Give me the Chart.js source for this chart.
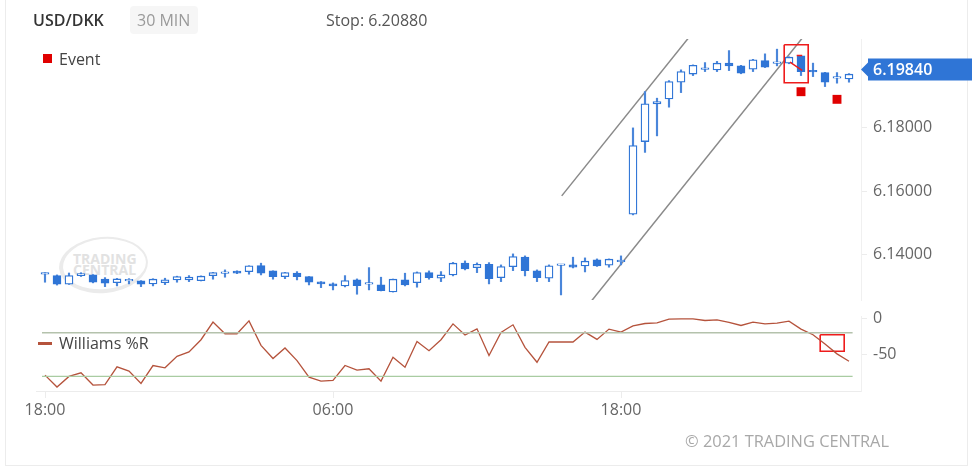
<!DOCTYPE html>
<html><head><meta charset="utf-8">
<script src="https://cdn.jsdelivr.net/npm/chart.js@4.4.0/dist/chart.umd.min.js"></script>
<style>
html,body{margin:0;padding:0;background:#fff;}
#wrap{position:relative;width:972px;height:469px;overflow:hidden;font-family:"Open Sans",sans-serif;}
canvas{position:absolute;left:0;top:0;}
.t{position:absolute;white-space:nowrap;height:20px;line-height:20px;}
</style></head><body>
<div id="wrap">
  <div style="position:absolute;left:5px;top:-1px;width:963px;height:467px;border:1px solid #ececec;box-sizing:border-box;"></div>
  <div style="position:absolute;left:59px;top:237px;width:89px;height:56px;border:2.5px solid #ebebeb;border-bottom-width:4px;border-left-width:4px;border-radius:50%;box-sizing:border-box;transform:rotate(-5deg);"></div>
  <div class="t" style="left:73px;top:249px;font-size:14px;font-weight:700;color:#e2e2e2;">TRADING</div>
  <div class="t" style="left:73px;top:260px;font-size:14px;font-weight:700;color:#e2e2e2;">CENTRAL</div>
  <canvas id="c1" width="972" height="469"></canvas>
  <canvas id="c2" width="972" height="469"></canvas>
  <div class="t" style="left:33px;top:10px;font-size:16px;font-weight:600;color:#333;">USD/DKK</div>
  <div style="position:absolute;left:130px;top:6px;width:68px;height:28px;background:#f6f6f6;border-radius:4px;"></div>
  <div class="t" style="left:137px;top:10px;font-size:16px;color:#9a9a9a;">30 MIN</div>
  <div class="t" style="left:326px;top:10px;font-size:16px;color:#555;">Stop: 6.20880</div>
  <div style="position:absolute;left:43px;top:54px;width:9px;height:9px;background:#e00000;"></div>
  <div class="t" style="left:59px;top:49px;font-size:16px;color:#444;">Event</div>
  <div style="position:absolute;left:38px;top:342px;width:14px;height:3px;background:#b5533c;"></div>
  <div class="t" style="left:59px;top:333px;font-size:16px;color:#444;">Williams %R</div>
  <div class="t" style="left:685px;top:431px;font-size:16.4px;color:#a8a8a8;">© 2021 TRADING CENTRAL</div>
</div>
<script>
// ---- data ----
const xTickPos = [0, 24, 48];
const xTickLabels = ["18:00", "06:00", "18:00"];
const priceTicks = [6.14, 6.16, 6.18];
const wTicks = [0, -50];
const currentPrice = 6.19840;

const openP = [6.1339,6.1335,6.1308,6.1335,6.1337,6.13235,6.13127,6.1318,6.13181,6.13087,
6.13127,6.13213,6.13213,6.1319,6.13348,6.13418,6.13487,6.13474,6.13663,6.13496,
6.13316,6.13424,6.13316,6.1315,6.13087,6.13024,6.13213,6.13077,6.13055,6.12835,
6.13213,6.13127,6.13442,6.13266,6.1337,6.13739,6.136,6.13707,6.13285,6.13631,
6.13928,6.13496,6.13266,6.13671,6.13685,6.13654,6.13843,6.13676,6.13784,6.15282,
6.17569,6.18757,6.18914,6.1944,6.19695,6.19845,6.19828,6.20039,6.19954,6.1985,
6.2012,6.2003,6.20039,6.20269,6.19774,6.19742,6.19566,6.19544];
const closeP = [6.1340,6.1308,6.1335,6.1341,6.1314,6.13109,6.13244,6.1319,6.13077,6.13235,
6.13213,6.13316,6.13298,6.1333,6.13442,6.13428,6.13424,6.13654,6.13424,6.13316,
6.13442,6.13316,6.1314,6.13087,6.13024,6.1319,6.13033,6.13087,6.12875,6.13235,
6.13055,6.13442,6.13285,6.1337,6.13739,6.13559,6.13707,6.13253,6.13631,6.13946,
6.13505,6.13285,6.13654,6.13681,6.13613,6.13802,6.13654,6.13865,6.13794,6.17443,
6.18757,6.18829,6.19459,6.19774,6.1997,6.19855,6.20039,6.19954,6.19724,6.20143,
6.19913,6.2004,6.20228,6.19774,6.19764,6.1944,6.19576,6.19692];
const highP = [6.1344,6.1337,6.1343,6.1344,6.1338,6.13285,6.1326,6.13253,6.1319,6.1325,
6.13266,6.1333,6.13348,6.1334,6.1345,6.13528,6.1350,6.1366,6.13739,6.1350,
6.1345,6.13474,6.1332,6.1316,6.13118,6.13348,6.13244,6.136,6.13298,6.1324,
6.13424,6.13464,6.13496,6.13474,6.13764,6.13811,6.13748,6.13757,6.13685,6.14032,
6.13969,6.13528,6.13685,6.13701,6.13928,6.13906,6.13874,6.13874,6.13969,6.18,
6.19144,6.18936,6.1949,6.19828,6.19985,6.20057,6.20095,6.20435,6.1997,6.2016,
6.20332,6.2048,6.2024,6.2028,6.2004,6.1975,6.19742,6.1971];
const lowP = [6.1314,6.1305,6.1307,6.1332,6.1312,6.13001,6.13024,6.13087,6.13001,6.13024,
6.13064,6.1314,6.13159,6.1318,6.13235,6.13298,6.1341,6.13392,6.1337,6.13235,
6.13253,6.13213,6.13055,6.1297,6.12898,6.12992,6.12762,6.12898,6.12866,6.1283,
6.13024,6.12983,6.13235,6.13159,6.13339,6.13528,6.13442,6.13087,6.13159,6.13505,
6.13339,6.13159,6.13159,6.1274,6.1359,6.13464,6.13638,6.13613,6.13685,6.1526,
6.17229,6.17749,6.18653,6.19112,6.19648,6.19774,6.19774,6.19805,6.19705,6.19774,
6.199,6.19954,6.2002,6.19648,6.19616,6.19302,6.19409,6.1944];

const williams = [-78.2,-94.5,-80,-75,-91.8,-91.3,-66.8,-72.7,-89.5,-65,
-68.1,-52.3,-46.3,-29.6,-5.4,-21.4,-21.4,-3.7,-37.3,-55.4,
-40.9,-58.2,-80.9,-86.4,-85.4,-65,-71.4,-69.5,-86.4,-53.7,
-67.3,-31.9,-44.6,-29.6,-7.8,-23.2,-14.6,-51.4,-19.6,-9.1,
-40,-60.5,-32.7,-32.7,-32.7,-19.1,-29.1,-15,-19.1,-10.5,
-7.3,-6.4,-1.4,-1,-1,-3.2,-2.3,-5.9,-10,-5.4,
-7.8,-6.8,-4.1,-15,-22.7,-35.4,-49,-59.1];

const eventIdx = [63, 66];
const eventPrice = [6.1914, 6.1890];

const channelUpperX = [43.06, 54];
const channelUpperY = [6.1586, 6.2101];
const channelLowerX = [44.5, 64];
const channelLowerY = [6.1206, 6.2125];

const boxUpX = [61.6, 63.6];
const boxUpY = [6.1942, 6.2062];
const boxLoX = [64.6, 66.6];
const boxLoY = [-45.5, -22.7];

const levelHigh = -20;
const levelLow = -80;
const levelX = [-0.25, 67.3];

const xMin = -0.75, xMax = 68;
const priceMin = 6.1258, priceMax = 6.2080;
const wMin = -100, wMax = 3;

// ---- styles ----
const BLUE = '#2f75d6';
const FONT = '"Open Sans", sans-serif';
Chart.defaults.font.family = FONT;
Chart.defaults.animation = false;

function rectPts(xs, ys) {
  return [{x:xs[0],y:ys[1]},{x:xs[1],y:ys[1]},{x:xs[1],y:ys[0]},{x:xs[0],y:ys[0]},{x:xs[0],y:ys[1]}];
}
const idx = openP.map((_, i) => i);

const priceLabelPlugin = {
  id: 'priceLabel',
  afterDraw(chart) {
    const y = chart.scales.y.getPixelForValue(currentPrice);
    const ctx = chart.ctx;
    const left = chart.chartArea.right;
    ctx.save();
    ctx.fillStyle = BLUE;
    ctx.beginPath();
    ctx.moveTo(left, y);
    ctx.lineTo(left + 7, y - 7);
    ctx.lineTo(left + 7, y - 11);
    ctx.lineTo(972, y - 11);
    ctx.lineTo(972, y + 11);
    ctx.lineTo(left + 7, y + 11);
    ctx.lineTo(left + 7, y + 7);
    ctx.closePath();
    ctx.fill();
    ctx.fillStyle = '#fff';
    ctx.font = '600 16px ' + FONT;
    ctx.textBaseline = 'middle';
    ctx.fillText(currentPrice.toFixed(5), left + 12, y + 1);
    ctx.restore();
  }
};

const axisGrid = {drawOnChartArea: false, tickLength: 6, color: '#ececec'};

new Chart(document.getElementById('c1'), {
  type: 'bar',
  data: {
    datasets: [
      {
        type: 'bar', order: 1, grouped: false,
        data: idx.map(i => ({x: i, y: [openP[i], closeP[i]]})),
        backgroundColor: idx.map(i => closeP[i] >= openP[i] ? '#ffffff' : BLUE),
        borderColor: BLUE, borderWidth: 1.3, borderSkipped: false,
        barThickness: 8, minBarLength: 1.6
      },
      {
        type: 'bar', order: 2, grouped: false,
        data: idx.map(i => ({x: i, y: [lowP[i], highP[i]]})),
        backgroundColor: '#4a86da', borderWidth: 0,
        barThickness: 1.5
      },
      {
        type: 'line', order: 3,
        data: channelUpperX.map((x, i) => ({x, y: channelUpperY[i]})),
        borderColor: '#8a8a8a', borderWidth: 1.5, pointRadius: 0
      },
      {
        type: 'line', order: 3,
        data: channelLowerX.map((x, i) => ({x, y: channelLowerY[i]})),
        borderColor: '#8a8a8a', borderWidth: 1.5, pointRadius: 0
      },
      {
        type: 'line', order: 0, showLine: false,
        data: eventIdx.map((x, i) => ({x, y: eventPrice[i]})),
        pointStyle: 'rect', pointRadius: 6.3, pointBackgroundColor: '#e00000', pointBorderWidth: 0
      },
      {
        type: 'line', order: 0,
        data: rectPts(boxUpX, boxUpY),
        borderColor: '#ee1c1c', borderWidth: 1.6, pointRadius: 0
      },
      {
        type: 'line', order: 0,
        data: [{x:62.64,y:6.2028},{x:63.1,y:6.2028},{x:63.1,y:null},{x:62.08,y:6.2007},{x:63.1,y:6.1981}],
        borderColor: '#ee1c1c', borderWidth: 1.4, pointRadius: 0, spanGaps: false
      }
    ]
  },
  options: {
    responsive: false,
    animation: false,
    layout: {padding: {left: 36, top: 39, right: 0, bottom: 169}},
    plugins: {legend: {display: false}, tooltip: {enabled: false}},
    scales: {
      x: {type: 'linear', min: xMin, max: xMax, offset: false, display: false},
      y: {
        type: 'linear', position: 'right', min: priceMin, max: priceMax,
        afterBuildTicks: s => { s.ticks = priceTicks.map(v => ({value: v})); },
        afterFit: s => { s.width = 111; },
        ticks: {font: {size: 16}, color: '#666', padding: 6, callback: v => Number(v).toFixed(5)},
        grid: axisGrid,
        border: {color: '#f0f0f0'}
      }
    }
  },
  plugins: [priceLabelPlugin]
});

new Chart(document.getElementById('c2'), {
  type: 'line',
  data: {
    datasets: [
      {
        data: levelX.map(x => ({x, y: levelHigh})),
        borderColor: '#b4c2ac', borderWidth: 1.3, pointRadius: 0
      },
      {
        data: levelX.map(x => ({x, y: levelLow})),
        borderColor: '#a9cca2', borderWidth: 1.3, pointRadius: 0
      },
      {
        data: idx.map(i => ({x: i, y: williams[i]})),
        borderColor: '#b5533c', borderWidth: 1.3, pointRadius: 0, tension: 0
      },
      {
        data: rectPts(boxLoX, boxLoY),
        borderColor: '#ee1c1c', borderWidth: 1.6, pointRadius: 0
      }
    ]
  },
  options: {
    responsive: false,
    animation: false,
    layout: {padding: {left: 36, top: 316, right: 0, bottom: 0}},
    plugins: {legend: {display: false}, tooltip: {enabled: false}},
    scales: {
      x: {
        type: 'linear', min: xMin, max: xMax, position: 'bottom', offset: false,
        afterBuildTicks: s => { s.ticks = xTickPos.map(v => ({value: v})); },
        afterFit: s => { s.height = 78; },
        ticks: {font: {size: 16}, color: '#666', padding: 3, autoSkip: false, maxRotation: 0,
                callback: (v, i) => xTickLabels[i]},
        grid: {drawOnChartArea: false, tickLength: 7, color: '#ececec'},
        border: {color: '#ececec'}
      },
      y: {
        type: 'linear', position: 'right', min: wMin, max: wMax,
        afterBuildTicks: s => { s.ticks = wTicks.map(v => ({value: v})); },
        afterFit: s => { s.width = 111; },
        ticks: {font: {size: 16}, color: '#666', padding: 6, callback: v => String(v)},
        grid: axisGrid,
        border: {color: '#f0f0f0'}
      }
    }
  }
});
</script>
</body></html>
